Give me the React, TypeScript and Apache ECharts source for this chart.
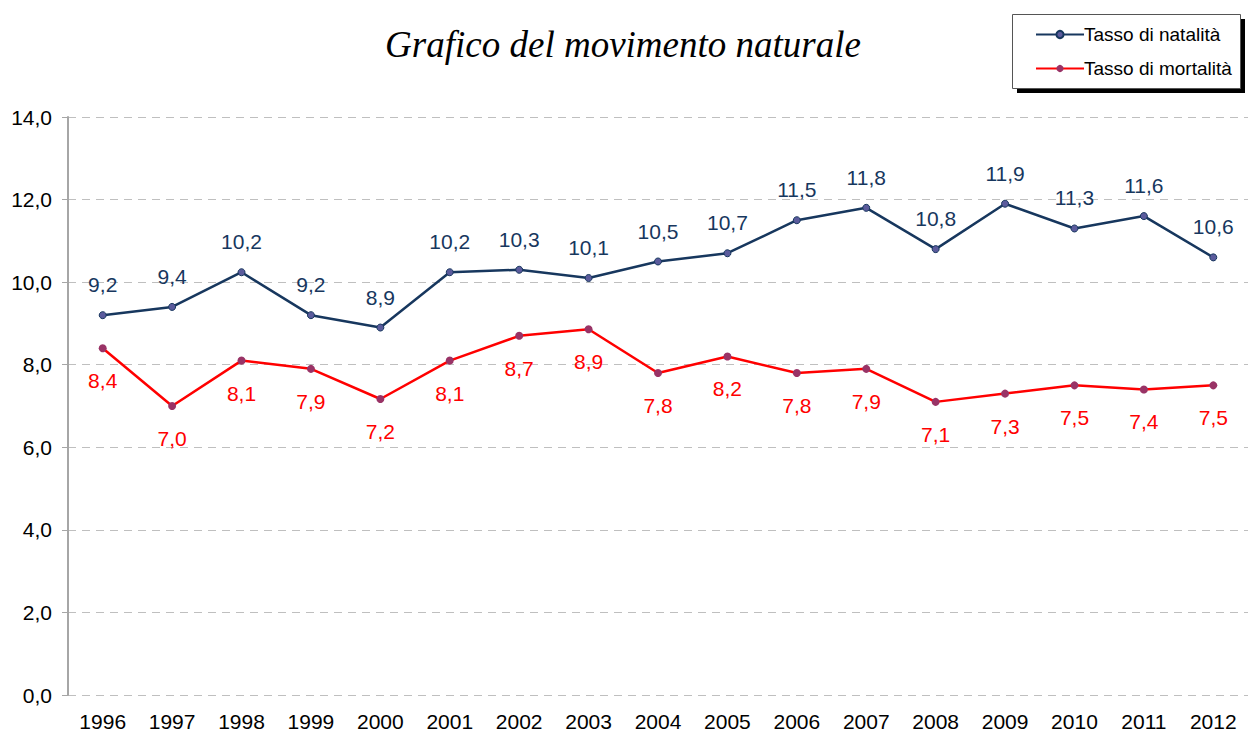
import React, { useEffect, useRef } from "react";
import * as echarts from "echarts";

const years = ["1996","1997","1998","1999","2000","2001","2002","2003","2004","2005","2006","2007","2008","2009","2010","2011","2012"];
const natalita = [9.2, 9.4, 10.24, 9.2, 8.9, 10.24, 10.3, 10.1, 10.5, 10.7, 11.5, 11.8, 10.8, 11.9, 11.3, 11.6, 10.6];
const mortalita = [8.4, 7.0, 8.1, 7.9, 7.17, 8.1, 8.7, 8.86, 7.8, 8.2, 7.8, 7.9, 7.1, 7.3, 7.5, 7.4, 7.5];
const yTicks = [0, 2, 4, 6, 8, 10, 12, 14];

const fmt = (v: number) => v.toFixed(1).replace(".", ",");

export default function App() {
  const ref = useRef<HTMLDivElement>(null);
  useEffect(() => {
    const chart = echarts.init(ref.current!, null, { renderer: "svg" });
    const font = "'Liberation Sans', Arial, sans-serif";
    chart.setOption({
      animation: false,
      backgroundColor: "#ffffff",
      title: {
        text: "Grafico del movimento naturale",
        left: 618,
        textAlign: "center",
        top: 21,
        textStyle: {
          fontFamily: "'Liberation Serif', 'Times New Roman', serif",
          fontStyle: "italic",
          fontWeight: "normal",
          fontSize: 37,
          color: "#000000",
        },
      },
      graphic: [
        { type: "rect", z: 0, shape: { x: 1017, y: 19, width: 228, height: 74 }, style: { fill: "#000000" } },
        { type: "rect", z: 1, shape: { x: 1012.5, y: 14.5, width: 228, height: 74 }, style: { fill: "#ffffff", stroke: "#555555", lineWidth: 1 } },
      ],
      legend: {
        z: 10,
        orient: "vertical",
        left: 1030,
        top: 20,
        itemWidth: 48,
        itemHeight: 9,
        itemGap: 15,
        textStyle: { fontFamily: font, fontSize: 19, color: "#000000", padding: [0, 0, 0, -5] },
        data: ["Tasso di natalità", "Tasso di mortalità"],
      },
      grid: { left: 68, right: 0, top: 117, bottom: 43, containLabel: false },
      xAxis: {
        type: "category",
        data: years,
        boundaryGap: true,
        axisLine: { show: false },
        axisTick: { show: false },
        axisLabel: { margin: 16, fontFamily: font, fontSize: 21, color: "#000000" },
      },
      yAxis: {
        type: "value",
        min: 0,
        max: 14,
        interval: 2,
        axisLine: { show: true, lineStyle: { color: "#a6a6a6", width: 2 } },
        axisTick: { show: true, length: 6, lineStyle: { color: "#a6a6a6", width: 1 } },
        axisLabel: {
          margin: 16,
          fontFamily: font,
          fontSize: 21,
          color: "#000000",
          formatter: (v: number) => (yTicks.includes(v) ? fmt(v) : ""),
        },
        splitLine: { show: true, lineStyle: { color: "#bfbfbf", type: [8, 6], width: 1 } },
      },
      series: [
        {
          name: "Tasso di natalità",
          type: "line",
          data: natalita,
          symbol: "circle",
          symbolSize: 7,
          lineStyle: { color: "#17375e", width: 2.5 },
          itemStyle: { color: "#5b5b9c", borderColor: "#17375e", borderWidth: 1 },
          label: {
            show: true,
            position: "top",
            distance: 16,
            fontFamily: font,
            fontSize: 21,
            color: "#17375e",
            formatter: (p: any) => fmt(p.value),
          },
          z: 3,
        },
        {
          name: "Tasso di mortalità",
          type: "line",
          data: mortalita,
          symbol: "circle",
          symbolSize: 8,
          lineStyle: { color: "#ff0000", width: 2.5 },
          itemStyle: { color: "#993366", borderColor: "#993366", borderWidth: 0 },
          label: {
            show: true,
            position: "bottom",
            distance: 18,
            fontFamily: font,
            fontSize: 21,
            color: "#ff0000",
            formatter: (p: any) => fmt(p.value),
          },
          z: 3,
        },
      ],
    });
    return () => chart.dispose();
  }, []);
  return <div ref={ref} style={{ width: 1248, height: 738, position: "absolute", left: 0, top: 0 }} />;
}
